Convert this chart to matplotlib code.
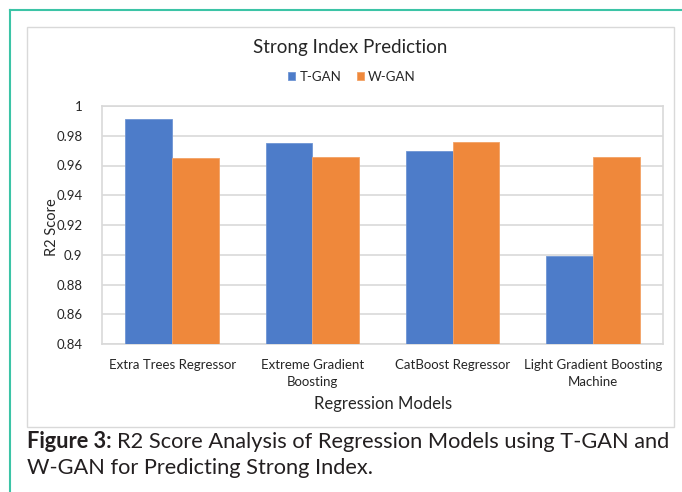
import matplotlib.pyplot as plt
from matplotlib.patches import Rectangle
from matplotlib.lines import Line2D
import numpy as np

plt.rcParams['font.family'] = ['Lato', 'DejaVu Sans']

# Data
models = ["Extra Trees Regressor", "Extreme Gradient\nBoosting",
          "CatBoost Regressor", "Light Gradient Boosting\nMachine"]
t_gan = [0.991, 0.975, 0.970, 0.899]
w_gan = [0.965, 0.966, 0.976, 0.966]
yticks = [0.84, 0.86, 0.88, 0.9, 0.92, 0.94, 0.96, 0.98, 1]
ytick_labels = ["0.84", "0.86", "0.88", "0.9", "0.92", "0.94", "0.96", "0.98", "1"]

W, H = 682, 492
fig = plt.figure(figsize=(W / 100, H / 100), dpi=100)


def fx(px):
    return px / W


def fy(py):
    return 1 - py / H


# page decorations: teal frame and chart box
fig.add_artist(Line2D([fx(10), fx(10)], [fy(10), 0], color="#3cc4a6", lw=1.5))
fig.add_artist(Line2D([fx(10), 1], [fy(10), fy(10)], color="#3cc4a6", lw=1.5))
fig.add_artist(Rectangle((fx(27), fy(427)), fx(674) - fx(27), fy(27) - fy(427),
                         fill=False, edgecolor="#d9d9d9", lw=1))

ax = fig.add_axes([fx(102), fy(344), fx(663) - fx(102), fy(106) - fy(344)])

x = np.arange(len(models))
w = 1 / 3
ax.bar(x - w / 2, t_gan, w, color="#4d7cc9", edgecolor="#6f95d4", lw=0.6, label="T-GAN", zorder=3)
ax.bar(x + w / 2, w_gan, w, color="#ef883b", edgecolor="#f3a266", lw=0.6, label="W-GAN", zorder=3)

ax.set_xlim(-0.5, len(models) - 0.5)
ax.set_ylim(0.84, 1.0)
ax.set_yticks(yticks)
ax.set_yticklabels(ytick_labels)
ax.grid(axis="y", color="#d9d9d9", lw=1.2, zorder=0)
for s in ax.spines.values():
    s.set_color("#d9d9d9")
    s.set_linewidth(1.2)
ax.tick_params(length=0, labelsize=9.5, colors="#262626", pad=14)
ax.tick_params(axis="x", pad=11)
ax.set_xticks(x)
ax.set_xticklabels(models, linespacing=1.5)

fig.text(fx(52), fy(227), "R2 Score", rotation=90, ha="center", va="center",
         fontsize=10.5, color="#262626")
fig.text(fx(383), fy(404), "Regression Models", ha="center", va="center",
         fontsize=12, color="#262626")
fig.text(fx(350), fy(47), "Strong Index Prediction", ha="center", va="center",
         fontsize=13.5, color="#262626")

fig.legend(loc="center", bbox_to_anchor=(fx(352), fy(77)), ncol=2, frameon=False,
           fontsize=9.5, handlelength=0.55, handleheight=0.55, handletextpad=0.3,
           columnspacing=1.2, labelcolor="#262626")

# caption
cap1 = fig.text(fx(27), fy(442), "Figure 3:", ha="left", va="center",
                fontsize=15.7, fontweight="bold", color="#231f20")
fig.canvas.draw()
bb = cap1.get_window_extent()
fig.text(bb.x1 / W + fx(5), fy(442), "R2 Score Analysis of Regression Models using T-GAN and",
         ha="left", va="center", fontsize=15.7, color="#231f20")
fig.text(fx(27), fy(468), "W-GAN for Predicting Strong Index.", ha="left", va="center",
         fontsize=15.7, color="#231f20")

fig.savefig("out.png", dpi=100)
